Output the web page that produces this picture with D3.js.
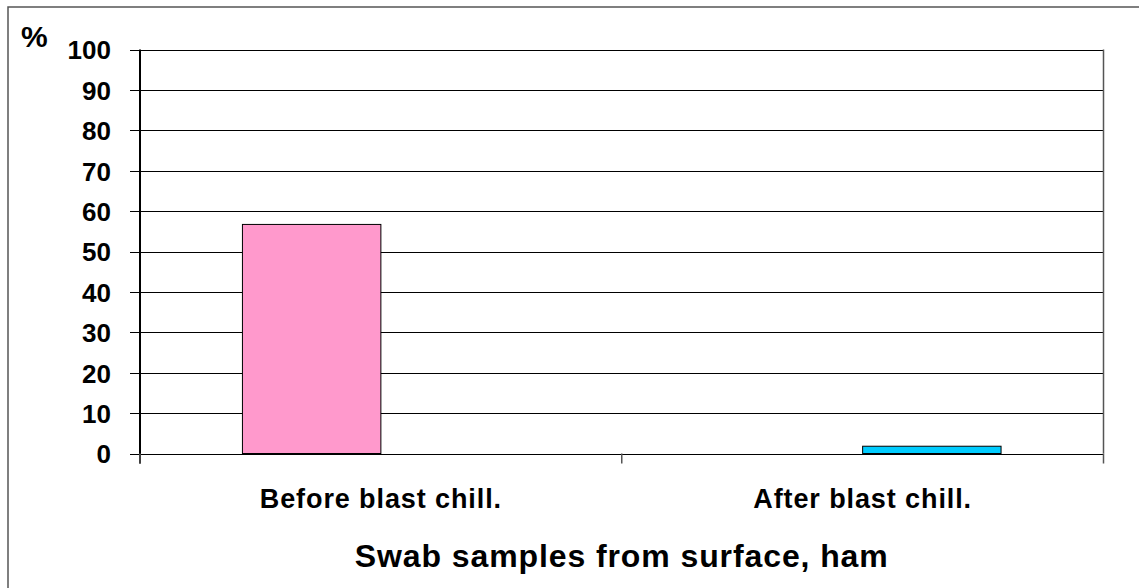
<!DOCTYPE html>
<html>
<head>
<meta charset="utf-8">
<script src="https://cdn.jsdelivr.net/npm/d3@7"></script>
<style>
  body { margin: 0; background: #fff; }
  text { font-family: "Liberation Sans", Arial, sans-serif; font-weight: bold; fill: #000; }
</style>
</head>
<body>
<script>
// data
var categories = ["Before blast chill.", "After blast chill."];
var seriesNames = ["before", "after"];
var beforeValues = [56.7, 0];
var afterValues = [0, 1.8];
var seriesColors = ["#FF99CC", "#00CCFF"];
var yTicks = [0, 10, 20, 30, 40, 50, 60, 70, 80, 90, 100];

var W = 1139, H = 588;
var plot = {left: 140, right: 1103.5, top: 49.5, bottom: 453.5};

var svg = d3.select("body").append("svg")
    .attr("width", W)
    .attr("height", H);

// outer chart border (runs off the right/bottom edges)
svg.append("rect")
    .attr("x", 8).attr("y", 7)
    .attr("width", W + 20).attr("height", H + 20)
    .attr("fill", "none")
    .attr("stroke", "#555")
    .attr("stroke-width", 1.5);

//scales
var xScale = d3.scaleBand().domain(categories).range([plot.left, plot.right]).padding(0);
var x1 = d3.scaleBand().domain(seriesNames).range([0, xScale.bandwidth()]).paddingInner(0).paddingOuter(0.74);
var yScale = d3.scaleLinear().domain([0, 100]).range([plot.bottom, plot.top]);

// gridlines
svg.append("g")
    .selectAll("line")
    .data(yTicks)
    .enter()
    .append("line")
    .attr("x1", plot.left - 10)
    .attr("x2", plot.right)
    .attr("y1", function(d) { return Math.round(yScale(d)) + 0.5; })
    .attr("y2", function(d) { return Math.round(yScale(d)) + 0.5; })
    .attr("stroke", "#000")
    .attr("stroke-width", 1);

// right edge of plot area
svg.append("line")
    .attr("x1", plot.right).attr("x2", plot.right)
    .attr("y1", plot.top).attr("y2", plot.bottom)
    .attr("stroke", "#555").attr("stroke-width", 1.5);

// bars
var rows = categories.map(function(c, i) {
    return {cat: c, values: [beforeValues[i], afterValues[i]]};
});

svg.append("g")
    .selectAll("g")
    .data(rows)
    .enter()
    .append("g")
    .attr("transform", function(d) { return "translate(" + xScale(d.cat) + ",0)"; })
    .selectAll("rect")
    .data(function(d) {
        return d.values.map(function(v, j) { return {key: seriesNames[j], value: v, color: seriesColors[j]}; });
    })
    .enter()
    .filter(function(d) { return d.value > 0; })
    .append("rect")
    .attr("x", function(d) { return x1(d.key); })
    .attr("width", x1.bandwidth())
    .attr("y", function(d) { return yScale(d.value); })
    .attr("height", function(d) { return yScale(0) - yScale(d.value); })
    .attr("fill", function(d) { return d.color; })
    .attr("stroke", "#000")
    .attr("stroke-width", 1);

// y axis
var yAxis = d3.axisLeft(yScale).tickValues(yTicks).tickSize(0).tickPadding(0);
var gy = svg.append("g")
    .attr("transform", "translate(" + plot.left + ",0)")
    .call(yAxis);
gy.select(".domain").remove();
gy.selectAll("text")
    .attr("x", -29)
    .attr("dy", "0.36em")
    .style("font-size", "26px")
    .style("font-family", "'Liberation Sans', Arial, sans-serif")
    .style("font-weight", "bold");

svg.append("line")
    .attr("x1", plot.left).attr("x2", plot.left)
    .attr("y1", plot.top).attr("y2", plot.bottom + 10)
    .attr("stroke", "#000").attr("stroke-width", 2);

// x axis
var xAxis = d3.axisBottom(xScale).tickSize(0).tickPadding(0);
var gx = svg.append("g")
    .attr("transform", "translate(0," + plot.bottom + ")")
    .call(xAxis);
gx.select(".domain").remove();
gx.selectAll("text")
    .attr("y", 54)
    .attr("dy", 0)
    .style("font-size", "27px")
    .style("font-family", "'Liberation Sans', Arial, sans-serif")
    .style("font-weight", "bold")
    .style("letter-spacing", "0.9px");

// category boundary ticks
var boundaries = [plot.left].concat(categories.map(function(c) { return xScale(c) + xScale.bandwidth(); }));
svg.append("g")
    .selectAll("line")
    .data(boundaries)
    .enter()
    .append("line")
    .attr("x1", function(d) { return d; })
    .attr("x2", function(d) { return d; })
    .attr("y1", plot.bottom)
    .attr("y2", plot.bottom + 10)
    .attr("stroke", "#555")
    .attr("stroke-width", 1.5);

// axis titles
svg.append("text")
    .attr("x", 21).attr("y", 47)
    .style("font-size", "30px")
    .text("%");

svg.append("text")
    .attr("x", (plot.left + plot.right) / 2)
    .attr("y", 567)
    .attr("text-anchor", "middle")
    .style("font-size", "32px")
    .style("letter-spacing", "0.9px")
    .text("Swab samples from surface, ham");
</script>
</body>
</html>
